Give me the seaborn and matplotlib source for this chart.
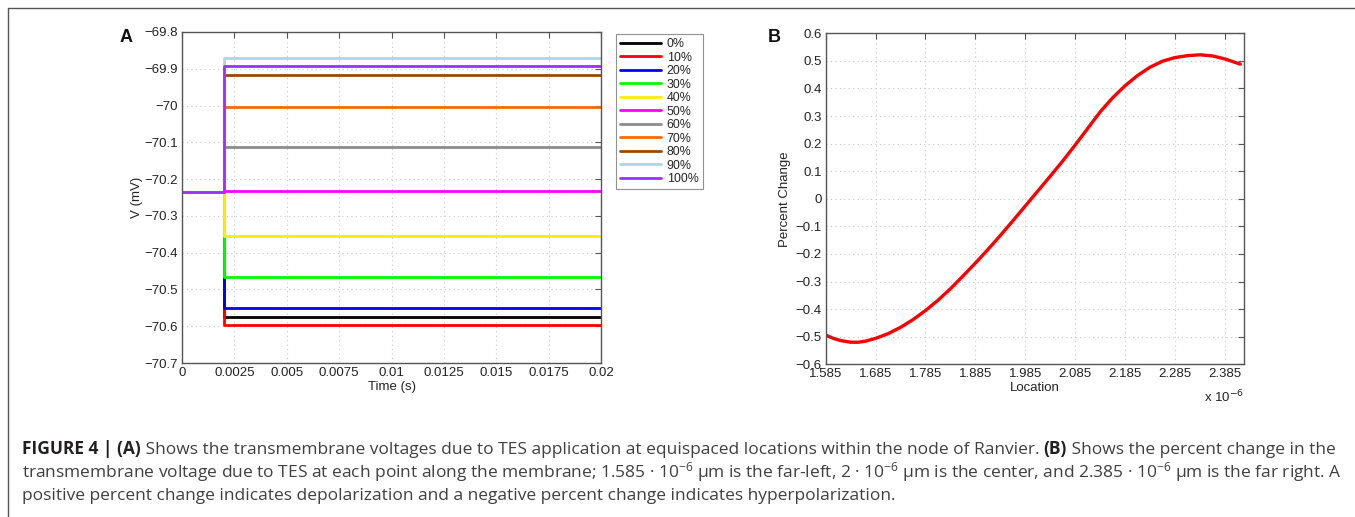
import numpy as np
import pandas as pd
import matplotlib
matplotlib.use("Agg")
import matplotlib.pyplot as plt
import seaborn as sns
from matplotlib.lines import Line2D

# ---------------- data ----------------
levels = ["0%", "10%", "20%", "30%", "40%", "50%", "60%", "70%", "80%", "90%", "100%"]
colors = ["#000000", "#ff0000", "#0000ff", "#00ff00", "#ffee00", "#ff00ff",
          "#8c8c8c", "#ff6a00", "#9a4a00", "#a8d8e8", "#9b30ff"]
rest_v = -70.234
step_time = 0.002
end_time = 0.02
final_v = [-70.575, -70.597, -70.550, -70.465, -70.354, -70.232,
           -70.114, -70.003, -69.917, -69.871, -69.892]

a_xticks = [0, 0.0025, 0.005, 0.0075, 0.01, 0.0125, 0.015, 0.0175, 0.02]
a_xticklabels = ["0", "0.0025", "0.005", "0.0075", "0.01", "0.0125", "0.015", "0.0175", "0.02"]
a_yticks = [-69.8, -69.9, -70.0, -70.1, -70.2, -70.3, -70.4, -70.5, -70.6, -70.7]
a_yticklabels = ["\u221269.8", "\u221269.9", "\u221270", "\u221270.1", "\u221270.2",
                 "\u221270.3", "\u221270.4", "\u221270.5", "\u221270.6", "\u221270.7"]

location = [1.585, 1.600, 1.615, 1.635, 1.650, 1.665, 1.685, 1.710, 1.735, 1.760,
            1.785, 1.810, 1.835, 1.860, 1.885, 1.910, 1.935, 1.960, 1.985, 2.010,
            2.035, 2.060, 2.085, 2.110, 2.135, 2.160, 2.185, 2.210, 2.235, 2.260,
            2.285, 2.310, 2.335, 2.360, 2.385, 2.416]
pct_change = [-0.494, -0.506, -0.514, -0.520, -0.520, -0.516, -0.506, -0.489, -0.466, -0.438,
              -0.405, -0.368, -0.326, -0.280, -0.233, -0.184, -0.133, -0.080, -0.026, 0.028,
              0.082, 0.137, 0.195, 0.255, 0.315, 0.366, 0.410, 0.447, 0.477, 0.499,
              0.512, 0.519, 0.522, 0.518, 0.507, 0.488]
b_xticks = [1.585, 1.685, 1.785, 1.885, 1.985, 2.085, 2.185, 2.285, 2.385]
b_yticks = [0.6, 0.5, 0.4, 0.3, 0.2, 0.1, 0, -0.1, -0.2, -0.3, -0.4, -0.5, -0.6]

caption_lines = [
    [("FIGURE 4 | (A)", "bold"),
     (" Shows the transmembrane voltages due to TES application at equispaced locations within the node of Ranvier. ", "normal"),
     ("(B)", "bold"),
     (" Shows the percent change in the", "normal")],
    [("transmembrane voltage due to TES at each point along the membrane; 1.585 \u00b7 10$^{-6}$ \u03bcm is the far-left, "
      "2 \u00b7 10$^{-6}$ \u03bcm is the center, and 2.385 \u00b7 10$^{-6}$ \u03bcm is the far right. A", "normal")],
    [("positive percent change indicates depolarization and a negative percent change indicates hyperpolarization.", "normal")],
]

# ---------------- style ----------------
sns.set_theme(style="white")
plt.rcParams["font.family"] = ["Liberation Sans", "DejaVu Sans"]
plt.rcParams["mathtext.fontset"] = "custom"
plt.rcParams["mathtext.rm"] = "Open Sans"
plt.rcParams["mathtext.it"] = "Open Sans:italic"
plt.rcParams["mathtext.bf"] = "Open Sans:bold"

W, H = 1355, 517
fig = plt.figure(figsize=(W / 100, H / 100), dpi=100)
fig.patch.set_facecolor("white")

def fx(px):
    return px / W

def fy(py):
    return 1 - py / H

tick_fs = 9.5

def style_axes(ax):
    for s in ax.spines.values():
        s.set_visible(True)
        s.set_color("#555555")
        s.set_linewidth(1.0)
    ax.tick_params(direction="in", length=4, width=0.8, top=True, right=True,
                   labelsize=tick_fs, colors="#555555", labelcolor="#222222", pad=3)
    ax.grid(True, linestyle=(0, (1, 3)), color="#c8c8c8", linewidth=0.8)
    ax.set_axisbelow(True)

# ---------------- panel A ----------------
axA = fig.add_axes([fx(182), fy(363), fx(601 - 182), (363 - 32) / H])
rows = []
for lev, v in zip(levels, final_v):
    for t, val in zip([0, step_time, step_time, end_time], [rest_v, rest_v, v, v]):
        rows.append({"time": t, "V": val, "level": lev})
dfA = pd.DataFrame(rows)
palette = dict(zip(levels, colors))
sns.lineplot(data=dfA, x="time", y="V", hue="level", hue_order=levels, palette=palette,
             estimator=None, sort=False, linewidth=2.0, ax=axA, legend=False)
axA.set_xlim(0, 0.02)
axA.set_ylim(-70.7, -69.8)
axA.set_xticks(a_xticks)
axA.set_xticklabels(a_xticklabels)
axA.set_yticks(a_yticks)
axA.set_yticklabels(a_yticklabels)
style_axes(axA)
axA.set_xlabel("Time (s)", fontsize=tick_fs, color="#222222")
axA.set_ylabel("V (mV)", fontsize=tick_fs, color="#222222")
axA.xaxis.set_label_coords(0.5, (363 - 381) / 331)
axA.yaxis.set_label_coords((143 - 182) / 419, 0.5)

handles = [Line2D([0], [0], color=c, lw=2.0) for c in colors]
leg = fig.legend(handles, levels, loc="upper left", bbox_to_anchor=(fx(616), fy(34)),
                 bbox_transform=fig.transFigure, fontsize=8.9, frameon=True,
                 fancybox=False, edgecolor="#777777", handlelength=3.3, handletextpad=0.45,
                 labelspacing=0.12, borderpad=0.35, borderaxespad=0)
leg.get_frame().set_linewidth(0.8)

fig.text(fx(120), fy(38), "A", fontsize=13, fontweight="bold", va="center", ha="left", color="#111111")

# ---------------- panel B ----------------
axB = fig.add_axes([fx(825.7), fy(364.3), fx(1244.3 - 825.7), 331 / H])
dfB = pd.DataFrame({"Location": location, "Percent Change": pct_change})
sns.lineplot(data=dfB, x="Location", y="Percent Change", color="#ff0000", linewidth=2.4, ax=axB)
axB.set_xlim(1.585, 2.424)
axB.set_ylim(-0.6, 0.6)
axB.set_xticks(b_xticks)
axB.set_xticklabels([f"{v:.3f}" for v in b_xticks])
axB.set_yticks(b_yticks)
axB.set_yticklabels([("\u2212" if v < 0 else "") + (f"{abs(v):.1f}" if v != 0 else "0") for v in b_yticks])
style_axes(axB)
axB.set_xlabel("Location", fontsize=tick_fs, color="#222222")
axB.set_ylabel("Percent Change", fontsize=tick_fs, color="#222222")
axB.xaxis.set_label_coords(0.5, (364.3 - 382) / 331)
axB.yaxis.set_label_coords((791 - 825.7) / 418.6, 0.5)
fig.text(fx(1244), fy(397), "x 10$^{-6}$", fontsize=tick_fs, ha="right", va="center", color="#222222",
         math_fontfamily="dejavusans")
fig.text(fx(768), fy(38), "B", fontsize=13, fontweight="bold", va="center", ha="left", color="#111111")

# ---------------- frame ----------------
fig.add_artist(Line2D([fx(8), fx(W + 5)], [fy(8), fy(8)], color="#555555", lw=1.0, transform=fig.transFigure))
fig.add_artist(Line2D([fx(8), fx(8)], [fy(8), fy(H + 5)], color="#555555", lw=1.0, transform=fig.transFigure))

# ---------------- caption ----------------
renderer = fig.canvas.get_renderer()
cap_family = ["Open Sans", "DejaVu Sans"]

def line_width(runs, fs):
    total = 0
    for s, w in runs:
        t = fig.text(0, 0, s, fontsize=fs, fontweight=w, family=cap_family)
        total += t.get_window_extent(renderer).width
        t.remove()
    return total

x_start, x_end = 22, 1336
base_fs = 10
cap_fs = base_fs * (x_end - x_start) / line_width(caption_lines[0], base_fs)
cap_col = "#404040"
line_y = [454, 477, 500]
for runs, py in zip(caption_lines, line_y):
    x = x_start
    for s, w in runs:
        t = fig.text(fx(x), fy(py), s, fontsize=cap_fs, fontweight=w, va="baseline", ha="left",
                     family=cap_family, color="#231f20" if w == "bold" else cap_col)
        x += t.get_window_extent(renderer).width

fig.savefig("out.png", dpi=100, facecolor="white")
